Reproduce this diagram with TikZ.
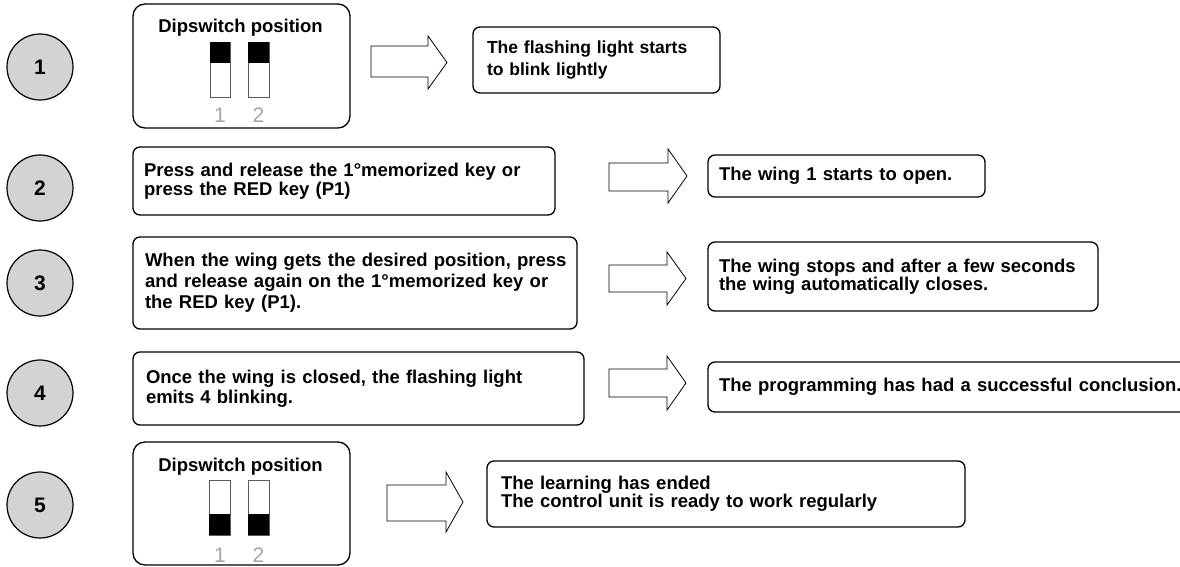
\documentclass[tikz,border=0pt]{standalone}
\usepackage{fontspec}
\setmainfont{Liberation Sans}
\definecolor{circgray}{RGB}{211,211,211}
\definecolor{swline}{RGB}{90,90,90}
\definecolor{swlabel}{RGB}{165,165,165}
\newcommand{\blkarrow}[7]{% x1, x2, xtip, shaft top, shaft bottom, head top, head bottom
  \draw[blockarrow] (#1,#4) -- (#2,#4) -- (#2,#6) -- (#3,{(#6+#7)/2}) -- (#2,#7) -- (#2,#5) -- (#1,#5) -- cycle;}
\begin{document}
\begin{tikzpicture}[x=1pt,y=-1pt,
  num/.style={circle, draw, line width=1.2pt, fill=circgray, minimum size=66pt, inner sep=0pt,
    font=\fontsize{21}{21}\selectfont\bfseries},
  box/.style={draw, line width=1.3pt, rounded corners=7pt, inner ysep=0pt, align=left,
    font=\fontsize{18.5}{20}\selectfont\bfseries},
  dipbox/.style={draw, line width=1.3pt, rounded corners=12pt, minimum width=217pt, inner sep=0pt},
  diptitle/.style={font=\fontsize{18.5}{20}\selectfont\bfseries, inner sep=0pt},
  swbody/.style={draw=swline, line width=0.8pt, fill=white},
  swknob/.style={fill=black},
  swnum/.style={text=swlabel, font=\fontsize{21}{21}\selectfont, inner sep=0pt},
  blockarrow/.style={draw, line width=0.8pt, fill=white, line join=miter}
]
\useasboundingbox (0,0) rectangle (1180,567);
\clip (0,0) rectangle (1180,567);

% step circles
\node[num] (c1) at (40,67) {1};
\node[num] (c2) at (40,188) {2};
\node[num] (c3) at (40,283) {3};
\node[num] (c4) at (40,393) {4};
\node[num] (c5) at (40,505) {5};

% step 1
\node[dipbox, minimum height=124pt] (dipA) at (241.5,66) {};
\node[diptitle] (dipAt) at (240.5,28) {Dipswitch position};
\draw[swbody] (210,42) rectangle (230,97);
\fill[swknob] (210,42) rectangle (230,63);
\draw[swbody] (248,42) rectangle (269,97);
\fill[swknob] (248,42) rectangle (269,63);
\node[swnum] (dipA1) at (220,115) {1};
\node[swnum] (dipA2) at (258.5,115) {2};
\blkarrow{371}{428}{447}{46}{77}{36}{89}
\node[box, inner xsep=14pt, minimum width=247pt, minimum height=66pt, text width=219pt,
  font=\fontsize{17.5}{22}\selectfont\bfseries] (flash) at (596.5,60)
  {The flashing light starts\\to blink lightly};

% step 2
\node[box, inner xsep=11pt, minimum width=422pt, minimum height=68pt, text width=400pt, font=\fontsize{18.5}{19.5}\selectfont\bfseries] (b2) at (344,181)
  {Press and release the 1°memorized key or\\press the RED key (P1)};
\blkarrow{609}{668}{687}{163}{191}{149}{203}
\node[box, inner xsep=11pt, minimum width=277pt, minimum height=42pt, text width=255pt] (w1) at (846.5,176)
  {The wing 1 starts to open.};

% step 3
\node[box, inner xsep=12pt, minimum width=444pt, minimum height=92pt, text width=420pt, font=\fontsize{18.5}{21}\selectfont\bfseries] (b3) at (355,283)
  {\mbox{When the wing gets the desired position, press}\\and release again on the 1°memorized key or\\the RED key (P1).\par\vspace*{6pt}};
\blkarrow{609}{667}{686}{265}{292}{252}{305}
\node[box, inner xsep=11pt, minimum width=390pt, minimum height=69pt, text width=368pt, font=\fontsize{18.5}{18}\selectfont\bfseries] (w3) at (903,276.5)
  {The wing stops and after a few seconds\\the wing automatically closes.\par\vspace*{12pt}};

% step 4
\node[box, inner xsep=13pt, minimum width=451pt, minimum height=73pt, text width=425pt] (b4) at (358.5,388.5)
  {Once the wing is closed, the flashing light\\emits 4 blinking.\par\vspace*{16pt}};
\blkarrow{609}{667}{686}{369}{397}{356}{410}
\node[box, inner xsep=11pt, minimum width=500pt, minimum height=50pt, text width=478pt] (w4) at (958,387)
  {The programming has had a successful conclusion.\par\vspace*{10pt}};

% step 5
\node[dipbox, minimum height=123pt] (dipB) at (241.5,503.5) {};
\node[diptitle] (dipBt) at (240.5,467) {Dipswitch position};
\draw[swbody] (209,480) rectangle (230,535);
\fill[swknob] (209,514) rectangle (230,535);
\draw[swbody] (248,480) rectangle (269,535);
\fill[swknob] (248,514) rectangle (269,535);
\node[swnum] (dipB1) at (220,555) {1};
\node[swnum] (dipB2) at (258.5,555) {2};
\blkarrow{387}{446}{463}{485}{521}{472}{532}
\node[box, inner xsep=14pt, minimum width=478pt, minimum height=66pt, text width=450pt, font=\fontsize{18.5}{18}\selectfont\bfseries] (w5) at (726,494)
  {The learning has ended\\The control unit is ready to work regularly\par\vspace*{4pt}};
\end{tikzpicture}
\end{document}
